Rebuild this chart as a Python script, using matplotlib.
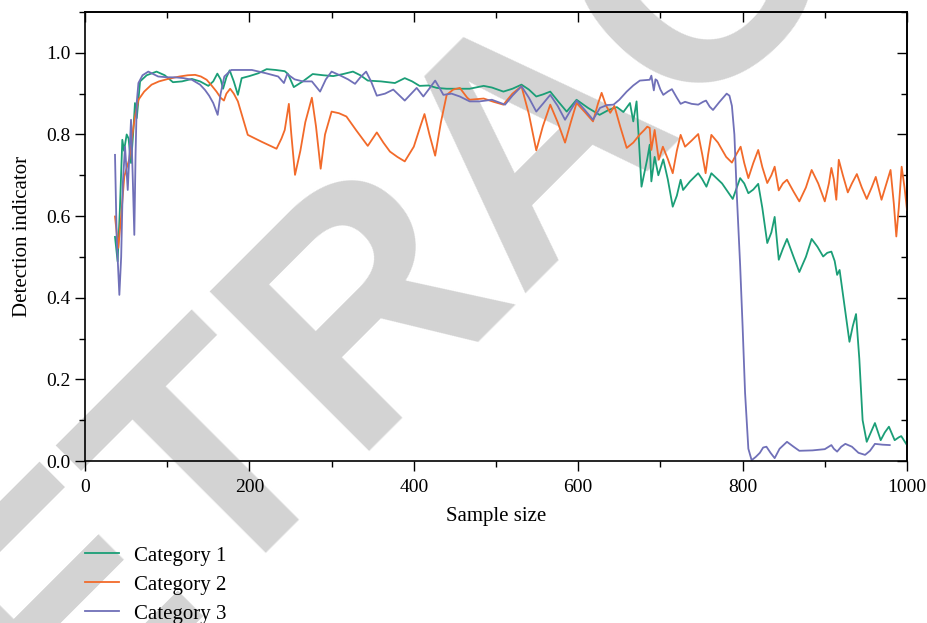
import matplotlib
matplotlib.use('Agg')
import matplotlib.pyplot as plt
from matplotlib.ticker import MultipleLocator

# Category 1 (green)
x1 = [36.5, 39.7, 42.5, 45.4, 47.5, 50.7, 53, 56, 58.5, 60.8, 63, 67, 75, 87, 97, 107, 118, 130, 140,
      150, 156, 161, 165, 168, 172, 176, 181, 186, 190.6, 200, 211, 221, 232, 243, 247, 254, 265, 277,
      290, 302, 314, 326, 335, 344, 360, 377, 389, 398, 407, 418, 428, 440, 455, 468, 485, 495, 509,
      520, 531, 540, 549, 557, 566, 576, 586, 598, 612, 626, 637, 647, 655, 663, 667, 671, 674, 677,
      684, 687, 689, 693, 697.5, 703.5, 709, 715, 720, 724.6, 727.6, 736, 746, 751, 756, 762, 775, 788,
      797, 802, 807, 813, 819, 824, 830, 835, 839, 844, 849, 854, 862, 869, 877, 884, 891, 898, 903,
      908, 912, 915, 918, 924, 930, 934, 938, 942, 946, 951, 956, 961, 968, 973, 978, 985, 990, 993, 999]
y1 = [0.549, 0.489, 0.62, 0.787, 0.76, 0.80, 0.79, 0.73, 0.80, 0.877, 0.84, 0.93, 0.945, 0.954, 0.945,
      0.928, 0.93, 0.936, 0.93, 0.919, 0.93, 0.949, 0.935, 0.912, 0.94, 0.957, 0.93, 0.897, 0.938,
      0.943, 0.95, 0.96, 0.958, 0.955, 0.948, 0.916, 0.93, 0.948, 0.945, 0.943, 0.948, 0.954, 0.945,
      0.932, 0.93, 0.926, 0.938, 0.93, 0.919, 0.92, 0.914, 0.912, 0.912, 0.912, 0.919, 0.915, 0.905,
      0.912, 0.922, 0.91, 0.893, 0.898, 0.905, 0.88, 0.856, 0.885, 0.865, 0.848, 0.86, 0.867, 0.855,
      0.877, 0.832, 0.881, 0.78, 0.672, 0.74, 0.775, 0.685, 0.745, 0.70, 0.739, 0.69, 0.623, 0.65,
      0.689, 0.664, 0.685, 0.705, 0.69, 0.672, 0.705, 0.68, 0.642, 0.693, 0.68, 0.656, 0.665, 0.679,
      0.62, 0.534, 0.56, 0.598, 0.493, 0.52, 0.544, 0.50, 0.463, 0.50, 0.544, 0.525, 0.501, 0.51,
      0.513, 0.49, 0.456, 0.468, 0.38, 0.292, 0.33, 0.36, 0.25, 0.10, 0.047, 0.07, 0.093, 0.051, 0.07,
      0.084, 0.051, 0.058, 0.061, 0.042]

# Category 2 (orange)
x2 = [36.5, 40.5, 44, 47.8, 51, 54, 58, 60.8, 65, 72, 81, 90, 101, 115, 125, 134, 141, 148, 154, 160,
      165, 169, 172, 176.6, 181, 186, 192, 198, 215, 233, 239, 243, 248, 251, 255.5, 262, 268, 276,
      281, 286.7, 292, 300, 309, 318, 330, 344, 355, 363, 371, 380, 389, 400, 408, 413, 419, 426, 433,
      440, 448, 456, 465, 468, 485, 497, 509, 520, 531, 540, 549, 557, 566, 575, 584, 591, 598, 608,
      618, 624, 628.5, 634, 639, 644, 651, 659, 667, 675, 680, 684, 687, 689, 693, 698, 703, 709, 715,
      720, 724.6, 730, 738, 746, 751, 755, 758, 762, 770, 780, 787, 792, 797.6, 802, 807, 813, 819, 824,
      830, 835, 839, 844, 849, 854, 862, 869, 877, 884, 892, 900, 905, 908, 911, 914, 917, 922, 928,
      933, 939, 945, 951, 957, 962, 969, 975, 980, 984, 987, 990, 993.5, 997, 1000]
y2 = [0.599, 0.522, 0.60, 0.697, 0.72, 0.74, 0.804, 0.844, 0.885, 0.905, 0.922, 0.93, 0.936, 0.942,
      0.945, 0.946, 0.942, 0.934, 0.92, 0.905, 0.89, 0.883, 0.90, 0.912, 0.90, 0.881, 0.84, 0.799,
      0.782, 0.765, 0.79, 0.811, 0.875, 0.80, 0.701, 0.76, 0.83, 0.89, 0.82, 0.716, 0.80, 0.856, 0.852,
      0.844, 0.81, 0.772, 0.805, 0.78, 0.758, 0.745, 0.734, 0.77, 0.82, 0.85, 0.80, 0.748, 0.83, 0.897,
      0.91, 0.914, 0.89, 0.885, 0.888, 0.88, 0.873, 0.90, 0.918, 0.85, 0.761, 0.82, 0.873, 0.83, 0.78,
      0.83, 0.877, 0.855, 0.832, 0.875, 0.902, 0.87, 0.853, 0.87, 0.82, 0.767, 0.78, 0.80, 0.81, 0.819,
      0.816, 0.762, 0.811, 0.738, 0.77, 0.74, 0.705, 0.76, 0.799, 0.77, 0.785, 0.801, 0.75, 0.705, 0.75,
      0.799, 0.78, 0.745, 0.731, 0.75, 0.77, 0.73, 0.693, 0.73, 0.762, 0.72, 0.681, 0.70, 0.721, 0.663,
      0.68, 0.689, 0.66, 0.636, 0.67, 0.713, 0.68, 0.636, 0.68, 0.718, 0.69, 0.64, 0.738, 0.70, 0.658,
      0.68, 0.703, 0.67, 0.642, 0.67, 0.696, 0.64, 0.68, 0.713, 0.63, 0.55, 0.62, 0.721, 0.67, 0.615]

# Category 3 (purple)
x3 = [36.5, 38.5, 41.8, 44, 46, 48.7, 52, 54, 56, 58, 60, 61.5, 63, 65, 70, 77, 83, 89, 100, 109.5, 120,
      130, 140, 146, 151, 156, 161.4, 165, 169.5, 178, 190, 203, 220, 235, 242, 246, 255, 265, 276,
      286, 293, 300, 310, 320, 328.5, 335, 342, 348, 355, 365, 375, 389, 397, 403.5, 411.6, 418, 426,
      431, 436, 446, 456, 468, 480, 495, 511, 520, 531, 540, 549, 557, 566, 575, 584, 591, 598, 608,
      618, 626.5, 635, 643, 650, 659, 667, 675, 681, 687, 689, 692, 694, 696, 700, 703.5, 709, 714, 720,
      724.6, 730, 738, 746, 752, 755.5, 760, 764, 772, 780.6, 784, 787, 790, 793, 797, 800, 803, 807,
      811, 816, 821, 825, 829, 834, 839, 845, 854, 862, 869, 885, 900, 908, 911, 915, 920, 925, 933,
      941, 949, 955, 961, 970, 979]
y3 = [0.75, 0.55, 0.407, 0.50, 0.68, 0.77, 0.664, 0.75, 0.836, 0.70, 0.554, 0.75, 0.88, 0.926, 0.945,
      0.954, 0.948, 0.942, 0.94, 0.94, 0.938, 0.934, 0.922, 0.909, 0.895, 0.877, 0.848, 0.90, 0.942,
      0.958, 0.958, 0.958, 0.95, 0.942, 0.926, 0.948, 0.935, 0.93, 0.93, 0.905, 0.935, 0.954, 0.945,
      0.935, 0.924, 0.94, 0.954, 0.93, 0.895, 0.90, 0.91, 0.883, 0.90, 0.914, 0.893, 0.91, 0.932, 0.915,
      0.897, 0.90, 0.893, 0.881, 0.881, 0.885, 0.873, 0.895, 0.918, 0.89, 0.856, 0.875, 0.897, 0.87,
      0.836, 0.86, 0.883, 0.86, 0.836, 0.865, 0.872, 0.873, 0.885, 0.905, 0.92, 0.932, 0.933, 0.934,
      0.944, 0.908, 0.935, 0.932, 0.91, 0.897, 0.905, 0.911, 0.89, 0.875, 0.88, 0.875, 0.873, 0.88,
      0.883, 0.868, 0.86, 0.88, 0.90, 0.895, 0.87, 0.80, 0.65, 0.48, 0.33, 0.167, 0.03, 0.002, 0.01,
      0.02, 0.033, 0.035, 0.02, 0.007, 0.03, 0.047, 0.035, 0.025, 0.026, 0.029, 0.039, 0.03, 0.023,
      0.035, 0.042, 0.035, 0.02, 0.015, 0.025, 0.042, 0.04, 0.039]

labels = ["Category 1", "Category 2", "Category 3"]
colors = ["#1b9e77", "#f26a2a", "#7070b8"]

plt.rcParams['font.family'] = ['Liberation Serif', 'DejaVu Serif']

fig = plt.figure(figsize=(9.28, 6.23), dpi=100)
ax = fig.add_axes([85 / 928, 1 - 461 / 623, 822 / 928, 449 / 623])
ax.patch.set_alpha(0)

# watermark, drawn below the axes
fig.text(0.58, 0.775, "RETRACTED", rotation=45, ha='center', va='center',
         fontsize=235, color='#d3d3d3', family='Liberation Sans', fontweight='bold', zorder=-5)

for xs, ys, lab, c in zip([x1, x2, x3], [y1, y2, y3], labels, colors):
    ax.plot(xs, ys, color=c, lw=1.3, label=lab)

ax.set_xlim(0, 1000)
ax.set_ylim(0, 1.1)
ax.xaxis.set_major_locator(MultipleLocator(200))
ax.xaxis.set_minor_locator(MultipleLocator(100))
ax.yaxis.set_major_locator(MultipleLocator(0.2))
ax.yaxis.set_minor_locator(MultipleLocator(0.1))
ax.yaxis.set_major_formatter(lambda v, p: f"{v:.1f}")
ax.tick_params(which='both', direction='out', labelsize=14, width=1)
ax.tick_params(which='major', length=7)
ax.tick_params(which='minor', length=4)
ax.tick_params(axis='x', pad=6)

top = ax.secondary_xaxis('top')
top.xaxis.set_major_locator(MultipleLocator(200))
top.xaxis.set_minor_locator(MultipleLocator(100))
top.tick_params(which='both', direction='in', labeltop=False, width=1)
top.tick_params(which='major', length=7)
top.tick_params(which='minor', length=4)
right = ax.secondary_yaxis('right')
right.yaxis.set_major_locator(MultipleLocator(0.2))
right.yaxis.set_minor_locator(MultipleLocator(0.1))
right.tick_params(which='both', direction='in', labelright=False, width=1)
right.tick_params(which='major', length=7)
right.tick_params(which='minor', length=4)
for a in (ax, top, right):
    for s in a.spines.values():
        s.set_linewidth(1.2)

ax.set_xlabel("Sample size", fontsize=15, labelpad=8)
ax.set_ylabel("Detection indicator", fontsize=15, labelpad=10)

fig.legend(loc='upper left', bbox_to_anchor=(85 / 928, 1 - 546 / 623), frameon=False,
           fontsize=15, handlelength=1.65, handletextpad=0.7, labelspacing=0.45,
           borderpad=0, borderaxespad=0)

fig.savefig("out.png", dpi=100)
